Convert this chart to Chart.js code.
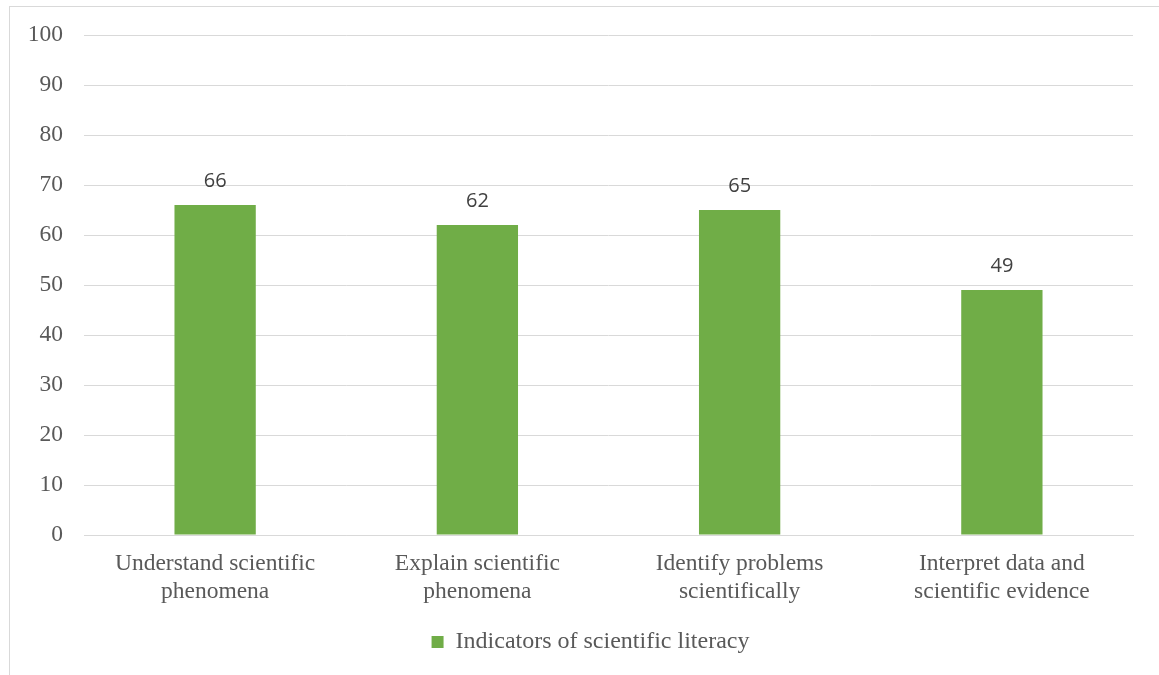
<!DOCTYPE html>
<html>
<head>
<meta charset="utf-8">
<script src="https://cdn.jsdelivr.net/npm/chart.js@4/dist/chart.umd.min.js"></script>
<style>
    html, body { margin: 0; padding: 0; background: #fff; }
    #wrap { position: relative; width: 1159px; height: 675px; }
    #frame { position: absolute; left: 9px; top: 6px; right: 0; bottom: 0;
             border-left: 1px solid #d9d9d9; border-top: 1px solid #d9d9d9; }
    canvas { position: absolute; left: 0; top: 0; }
</style>
</head>
<body>
<div id="wrap">
    <div id="frame"></div>
    <canvas id="chart" width="1159" height="675"></canvas>
</div>
<script>
// Données du graphique
const categories = [
    ['Understand scientific', 'phenomena'],
    ['Explain scientific', 'phenomena'],
    ['Identify problems', 'scientifically'],
    ['Interpret data and', 'scientific evidence']
];
const seriesName = 'Indicators of scientific literacy';
const values = [66, 62, 65, 49];
const yTicks = [0, 10, 20, 30, 40, 50, 60, 70, 80, 90, 100];

const serif = "'Liberation Serif', 'Times New Roman', serif";
const textGray = '#595959';
const gridGray = '#d9d9d9';
const barGreen = '#70ad47';

// Etiquettes de valeurs au-dessus des barres
const valueLabels = {
    id: 'valueLabels',
    afterDatasetsDraw(chart) {
        const ctx = chart.ctx;
        const meta = chart.getDatasetMeta(0);
        ctx.save();
        ctx.font = "20px 'Open Sans', 'Liberation Sans', sans-serif";
        ctx.fillStyle = '#404040';
        ctx.textAlign = 'center';
        ctx.textBaseline = 'middle';
        meta.data.forEach((bar, i) => {
            ctx.fillText(String(values[i]), bar.x, bar.y - 24);
        });
        ctx.restore();
    }
};

// Décaler la boîte de la légende pour la centrer comme dans l'original
const legendShift = {
    id: 'legendShift',
    afterLayout(chart) {
        if (chart.legend) {
            chart.legend.left += 48;
        }
    }
};

new Chart(document.getElementById('chart').getContext('2d'), {
    type: 'bar',
    data: {
        labels: categories,
        datasets: [{
            label: seriesName,
            data: values,
            backgroundColor: barGreen,
            borderWidth: 0,
            categoryPercentage: 1,
            barPercentage: 0.31
        }]
    },
    options: {
        responsive: false,
        animation: false,
        layout: { padding: { left: 0, right: 26, top: 35, bottom: 11 } },
        plugins: {
            legend: {
                position: 'bottom',
                labels: {
                    font: { family: serif, size: 24 },
                    color: textGray,
                    boxWidth: 12,
                    boxHeight: 12,
                    padding: 4
                }
            },
            tooltip: { enabled: false }
        },
        scales: {
            x: {
                grid: { display: false },
                border: { display: true, color: gridGray, width: 1 },
                ticks: {
                    font: { family: serif, size: 23.5, lineHeight: 1.2 },
                    color: textGray,
                    maxRotation: 0,
                    padding: 7
                },
                afterFit(scale) { scale.height = 91; }
            },
            y: {
                min: 0,
                max: 100,
                afterBuildTicks(scale) {
                    scale.ticks = yTicks.map(v => ({ value: v }));
                },
                grid: { color: gridGray, lineWidth: 1, drawTicks: false },
                border: { display: false },
                ticks: {
                    font: { family: serif, size: 23.5 },
                    color: textGray,
                    padding: 21
                },
                afterFit(scale) { scale.width = 84; }
            }
        }
    },
    plugins: [valueLabels, legendShift]
});
</script>
</body>
</html>
